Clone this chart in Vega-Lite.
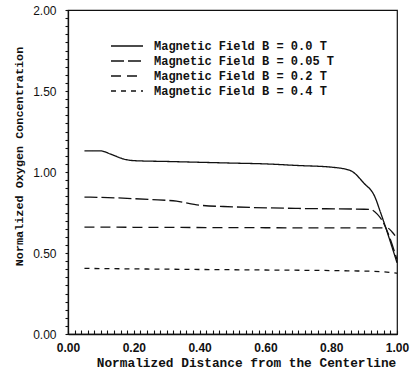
{
  "$schema": "https://vega.github.io/schema/vega-lite/v6.json",
  "width": 329,
  "height": 324,
  "autosize": {"type": "none"},
  "padding": {"left": 68, "top": 10, "right": 19, "bottom": 37},
  "background": "white",
  "config": {
    "view": {"stroke": "#111", "strokeWidth": 1.2},
    "axis": {"domainColor": "#111", "tickColor": "#111", "labelColor": "#111", "titleColor": "#111", "grid": false, "domainWidth": 1.3, "tickWidth": 1.1}
  },
  "data": {
    "values": [
      {"x": 0.05, "y": 1.13, "B": "Magnetic Field B = 0.0 T"},
      {"x": 0.10, "y": 1.13, "B": "Magnetic Field B = 0.0 T"},
      {"x": 0.13, "y": 1.11, "B": "Magnetic Field B = 0.0 T"},
      {"x": 0.17, "y": 1.08, "B": "Magnetic Field B = 0.0 T"},
      {"x": 0.20, "y": 1.07, "B": "Magnetic Field B = 0.0 T"},
      {"x": 0.30, "y": 1.065, "B": "Magnetic Field B = 0.0 T"},
      {"x": 0.40, "y": 1.06, "B": "Magnetic Field B = 0.0 T"},
      {"x": 0.50, "y": 1.055, "B": "Magnetic Field B = 0.0 T"},
      {"x": 0.60, "y": 1.05, "B": "Magnetic Field B = 0.0 T"},
      {"x": 0.70, "y": 1.04, "B": "Magnetic Field B = 0.0 T"},
      {"x": 0.80, "y": 1.03, "B": "Magnetic Field B = 0.0 T"},
      {"x": 0.857, "y": 1.01, "B": "Magnetic Field B = 0.0 T"},
      {"x": 0.90, "y": 0.93, "B": "Magnetic Field B = 0.0 T"},
      {"x": 0.932, "y": 0.85, "B": "Magnetic Field B = 0.0 T"},
      {"x": 0.95, "y": 0.75, "B": "Magnetic Field B = 0.0 T"},
      {"x": 1.0, "y": 0.44, "B": "Magnetic Field B = 0.0 T"},

      {"x": 0.05, "y": 0.845, "B": "Magnetic Field B = 0.05 T"},
      {"x": 0.15, "y": 0.84, "B": "Magnetic Field B = 0.05 T"},
      {"x": 0.25, "y": 0.83, "B": "Magnetic Field B = 0.05 T"},
      {"x": 0.33, "y": 0.82, "B": "Magnetic Field B = 0.05 T"},
      {"x": 0.40, "y": 0.795, "B": "Magnetic Field B = 0.05 T"},
      {"x": 0.50, "y": 0.785, "B": "Magnetic Field B = 0.05 T"},
      {"x": 0.70, "y": 0.775, "B": "Magnetic Field B = 0.05 T"},
      {"x": 0.90, "y": 0.77, "B": "Magnetic Field B = 0.05 T"},
      {"x": 0.92, "y": 0.768, "B": "Magnetic Field B = 0.05 T"},
      {"x": 0.94, "y": 0.74, "B": "Magnetic Field B = 0.05 T"},
      {"x": 0.955, "y": 0.70, "B": "Magnetic Field B = 0.05 T"},
      {"x": 1.0, "y": 0.46, "B": "Magnetic Field B = 0.05 T"},

      {"x": 0.05, "y": 0.66, "B": "Magnetic Field B = 0.2 T"},
      {"x": 0.30, "y": 0.658, "B": "Magnetic Field B = 0.2 T"},
      {"x": 0.60, "y": 0.656, "B": "Magnetic Field B = 0.2 T"},
      {"x": 0.90, "y": 0.655, "B": "Magnetic Field B = 0.2 T"},
      {"x": 0.955, "y": 0.655, "B": "Magnetic Field B = 0.2 T"},
      {"x": 0.97, "y": 0.655, "B": "Magnetic Field B = 0.2 T"},
      {"x": 0.985, "y": 0.63, "B": "Magnetic Field B = 0.2 T"},
      {"x": 1.0, "y": 0.59, "B": "Magnetic Field B = 0.2 T"},

      {"x": 0.05, "y": 0.405, "B": "Magnetic Field B = 0.4 T"},
      {"x": 0.30, "y": 0.40, "B": "Magnetic Field B = 0.4 T"},
      {"x": 0.60, "y": 0.395, "B": "Magnetic Field B = 0.4 T"},
      {"x": 0.85, "y": 0.39, "B": "Magnetic Field B = 0.4 T"},
      {"x": 0.95, "y": 0.385, "B": "Magnetic Field B = 0.4 T"},
      {"x": 1.0, "y": 0.375, "B": "Magnetic Field B = 0.4 T"}
    ]
  },
  "mark": {"type": "line", "color": "#111", "strokeWidth": 1.3, "interpolate": "monotone"},
  "encoding": {
    "x": {
      "field": "x", "type": "quantitative",
      "scale": {"domain": [0, 1], "nice": false},
      "axis": {
        "values": [0,0.02,0.04,0.06,0.08,0.1,0.12,0.14,0.16,0.18,0.2,0.22,0.24,0.26,0.28,0.3,0.32,0.34,0.36,0.38,0.4,0.42,0.44,0.46,0.48,0.5,0.52,0.54,0.56,0.58,0.6,0.62,0.64,0.66,0.68,0.7,0.72,0.74,0.76,0.78,0.8,0.82,0.84,0.86,0.88,0.9,0.92,0.94,0.96,0.98,1],
        "labelExpr": "abs(datum.value*5 - round(datum.value*5)) < 0.001 ? format(datum.value, '.2f') : ''",
        "tickSize": -4,
        "labelPadding": 12,
        "labelFont": "Liberation Sans", "labelFontSize": 12, "labelFontWeight": "bold",
        "labelFlush": false, "labelOverlap": false,
        "title": "Normalized Distance from the Centerline",
        "titleFont": "Liberation Mono", "titleFontSize": 12.8, "titleFontWeight": "bold",
        "titleX": 178, "titleY": 28, "titleBaseline": "middle"
      }
    },
    "y": {
      "field": "y", "type": "quantitative",
      "scale": {"domain": [0, 2], "nice": false},
      "axis": {
        "values": [0,0.05,0.1,0.15,0.2,0.25,0.3,0.35,0.4,0.45,0.5,0.55,0.6,0.65,0.7,0.75,0.8,0.85,0.9,0.95,1,1.05,1.1,1.15,1.2,1.25,1.3,1.35,1.4,1.45,1.5,1.55,1.6,1.65,1.7,1.75,1.8,1.85,1.9,1.95,2],
        "labelExpr": "abs(datum.value*2 - round(datum.value*2)) < 0.001 ? format(datum.value, '.2f') : ''",
        "tickSize": 3,
        "labelPadding": 9,
        "labelFont": "Liberation Sans", "labelFontSize": 12,
        "labelOverlap": false,
        "title": "Normalized Oxygen Concentration",
        "titleFont": "Liberation Mono", "titleFontSize": 11.8, "titleFontWeight": "bold",
        "titleY": 146, "titleX": -50, "titleAngle": -90, "titleBaseline": "middle"
      }
    },
    "strokeDash": {
      "field": "B", "type": "nominal",
      "scale": {
        "domain": ["Magnetic Field B = 0.0 T", "Magnetic Field B = 0.05 T", "Magnetic Field B = 0.2 T", "Magnetic Field B = 0.4 T"],
        "range": [[1, 0], [13, 4], [10, 6], [5, 5]]
      },
      "legend": {
        "orient": "none", "legendX": 50, "legendY": 27,
        "title": null,
        "symbolType": "M-2,0H2", "symbolSize": 256, "symbolStrokeColor": "#111", "symbolStrokeWidth": 1.3, "symbolFillColor": "transparent",
        "labelFont": "Liberation Mono", "labelFontSize": 12, "labelFontWeight": "bold", "labelColor": "#111",
        "labelOffset": 18, "labelLimit": 400, "rowPadding": -1
      }
    }
  }
}
